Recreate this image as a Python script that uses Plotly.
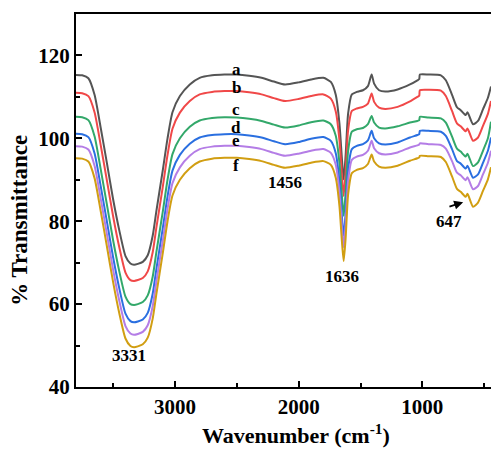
import plotly.graph_objects as go

# Wavenumber grid (cm^-1) shared by all spectra
wavenumber = [3800, 3750, 3700, 3650, 3600, 3550, 3500, 3450, 3400, 3360, 3331, 3300,
              3260, 3220, 3180, 3150, 3100, 3060, 3020, 2960, 2880, 2800, 2700, 2600,
              2500, 2400, 2300, 2200, 2110, 2000, 1900, 1800, 1740, 1700, 1670, 1650,
              1636, 1620, 1600, 1570, 1530, 1480, 1440, 1410, 1390, 1350, 1300, 1200,
              1100, 1040, 1025, 1020, 950, 850, 810, 760, 720, 690, 650, 635, 590, 550,
              510, 470, 445]

trans_a = [115.3, 115.2, 114.5, 110.5, 102.5, 94.0, 85.3, 77.8, 71.6, 69.8, 69.5, 69.7,
           70.2, 71.8, 76.5, 82.5, 92.0, 100.0, 106.3, 110.2, 113.0, 114.6, 115.2, 115.4,
           115.4, 115.1, 114.6, 113.7, 113.0, 113.5, 114.2, 114.6, 113.6, 110.5, 103.5, 95.0,
           90.1, 96.0, 106.0, 110.6, 111.2, 111.6, 112.6, 115.4, 113.2, 111.6, 111.3, 111.8,
           113.0, 114.0, 114.3, 115.4, 115.4, 115.2, 114.0, 110.5, 107.5, 106.8, 105.6, 106.3,
           103.4, 104.2, 107.0, 109.8, 112.5]

trans_b = [111.0, 110.9, 110.2, 106.3, 98.3, 89.8, 81.2, 73.7, 67.6, 65.8, 65.6, 65.8,
           66.3, 67.9, 72.5, 78.5, 88.0, 96.0, 102.3, 106.2, 109.0, 110.6, 111.2, 111.4,
           111.4, 111.1, 110.6, 109.7, 109.0, 109.5, 110.2, 110.6, 109.6, 106.5, 99.5, 91.0,
           86.1, 92.0, 102.0, 106.6, 107.2, 107.6, 108.4, 110.8, 108.8, 107.4, 107.1, 107.6,
           108.9, 110.0, 110.3, 111.6, 111.7, 111.5, 110.2, 106.6, 103.6, 102.9, 101.7, 102.4,
           99.4, 100.2, 103.0, 105.9, 109.0]

trans_c = [105.2, 105.1, 104.4, 100.5, 92.5, 84.0, 75.4, 67.9, 61.8, 60.0, 59.8, 60.0,
           60.5, 62.1, 66.6, 72.6, 82.0, 90.0, 96.2, 100.0, 102.8, 104.3, 104.9, 105.1,
           105.0, 104.7, 104.2, 103.3, 102.6, 103.1, 103.9, 104.3, 103.4, 100.6, 94.0, 86.0,
           81.3, 87.0, 97.0, 101.6, 102.2, 102.5, 103.4, 105.4, 103.8, 102.6, 102.4, 102.9,
           103.8, 104.2, 104.4, 105.2, 105.0, 104.8, 103.8, 100.4, 97.5, 96.8, 95.6, 96.3,
           93.3, 94.2, 97.0, 100.0, 104.0]

trans_d = [101.1, 101.0, 100.3, 96.4, 88.4, 79.9, 71.3, 63.8, 57.7, 55.9, 55.6, 55.8,
           56.3, 57.9, 62.5, 68.5, 78.0, 86.0, 92.2, 96.0, 98.7, 100.2, 100.8, 101.0,
           101.0, 100.7, 100.2, 99.3, 98.6, 99.1, 99.9, 100.3, 99.4, 96.4, 89.5, 81.0,
           76.5, 82.0, 92.5, 97.4, 98.2, 98.6, 99.5, 101.8, 100.0, 98.8, 98.5, 99.0,
           100.2, 100.8, 101.0, 101.8, 101.8, 101.6, 100.6, 97.4, 94.5, 93.9, 92.7, 93.4,
           90.5, 91.3, 94.1, 97.0, 100.2]

trans_e = [98.1, 98.0, 97.3, 93.4, 85.4, 76.9, 68.3, 60.8, 54.7, 52.9, 52.6, 52.8,
           53.3, 54.9, 59.5, 65.5, 75.0, 83.0, 89.2, 93.0, 95.8, 97.4, 98.0, 98.2,
           98.2, 97.9, 97.4, 96.5, 95.8, 96.3, 97.0, 97.4, 96.5, 93.6, 86.8, 78.3,
           73.7, 79.3, 89.8, 94.8, 95.6, 96.0, 97.0, 99.4, 97.6, 96.4, 96.1, 96.6,
           97.8, 98.3, 98.5, 98.8, 98.6, 98.4, 97.5, 94.5, 91.7, 91.1, 89.9, 90.6,
           87.7, 88.5, 91.3, 94.1, 97.0]

trans_f = [95.2, 95.1, 94.4, 90.4, 82.4, 73.9, 65.3, 57.8, 51.7, 49.9, 49.6, 49.8,
           50.3, 51.9, 56.5, 62.5, 72.0, 80.0, 86.2, 90.0, 92.8, 94.4, 95.1, 95.3,
           95.3, 95.0, 94.5, 93.6, 92.9, 93.4, 94.1, 94.5, 93.6, 90.5, 83.6, 75.0,
           70.4, 76.0, 86.5, 91.6, 92.4, 92.8, 93.8, 96.1, 94.4, 93.2, 92.9, 93.4,
           94.6, 95.2, 95.4, 95.8, 95.7, 95.5, 94.3, 90.8, 87.8, 87.1, 85.9, 86.6,
           83.5, 84.5, 87.3, 90.1, 93.0]

series_names = ["a", "b", "c", "d", "e", "f"]
series_values = [trans_a, trans_b, trans_c, trans_d, trans_e, trans_f]
series_colors = ["#555555", "#f04848", "#33a86a", "#2a6fe0", "#b47de6", "#d19e12"]

# Curve label positions (wavenumber, transmittance)
label_x = [2500, 2500, 2510, 2505, 2510, 2510]
label_y = [116.6, 112.3, 107.0, 102.5, 99.4, 93.4]

# Peak annotations
peak_text = ["3331", "1636", "1456"]
peak_x = [3372, 1650, 2111]
peak_y = [47.5, 66.6, 89.4]

serif = "Liberation Serif"

fig = go.Figure()
for name, vals, col in zip(series_names, series_values, series_colors):
    fig.add_trace(go.Scatter(
        x=wavenumber, y=vals, mode="lines", name=name,
        line=dict(color=col, width=2, shape="spline", smoothing=0.6),
        showlegend=False, hoverinfo="skip",
    ))

annotations = []
for name, lx, ly in zip(series_names, label_x, label_y):
    annotations.append(dict(x=lx, y=ly, xref="x", yref="y", text=name, showarrow=False,
                            font=dict(family=serif, size=17, color="black", weight="bold")))
for t, px, py in zip(peak_text, peak_x, peak_y):
    annotations.append(dict(x=px, y=py, xref="x", yref="y", text=t, showarrow=False,
                            font=dict(family=serif, size=17, color="black", weight="bold")))

# 647 label with its small arrow
annotations.append(dict(x=785, y=80.0, xref="x", yref="y", text="647", showarrow=False,
                        font=dict(family=serif, size=17, color="black", weight="bold")))
annotations.append(dict(x=670, y=84.6, ax=793, ay=83.4, xref="x", yref="y",
                        axref="x", ayref="y", text="", showarrow=True,
                        arrowhead=2, arrowsize=1, arrowwidth=1.8, arrowcolor="black"))

# Axis titles
annotations.append(dict(x=0.53, y=-0.125, xref="paper", yref="paper",
                        text="Wavenumber (cm<sup>-1</sup>)", showarrow=False,
                        xanchor="center", yanchor="middle",
                        font=dict(family=serif, size=22, color="black", weight="bold")))
annotations.append(dict(x=-0.135, y=0.448, xref="paper", yref="paper",
                        text="% Transmittance", showarrow=False, textangle=-90,
                        xanchor="center", yanchor="middle",
                        font=dict(family=serif, size=23, color="black", weight="bold")))

fig.update_layout(
    width=491, height=449,
    margin=dict(l=76, r=0, t=14, b=62),
    paper_bgcolor="white", plot_bgcolor="white",
    annotations=annotations,
    xaxis=dict(
        range=[3800, 445], tickvals=[3000, 2000, 1000],
        ticks="inside", ticklen=6, tickwidth=2, tickcolor="black",
        minor=dict(tickvals=[3500, 2500, 1500, 500], ticks="inside", ticklen=4,
                   tickwidth=1.5, tickcolor="black"),
        showline=True, linecolor="black", linewidth=2, mirror=True,
        showgrid=False, zeroline=False,
        tickfont=dict(family=serif, size=21, color="black", weight="bold"),
    ),
    yaxis=dict(
        range=[40, 130], tickvals=[40, 60, 80, 100, 120],
        ticks="inside", ticklen=6, tickwidth=2, tickcolor="black",
        minor=dict(tickvals=[50, 70, 90, 110], ticks="inside", ticklen=4,
                   tickwidth=1.5, tickcolor="black"),
        showline=True, linecolor="black", linewidth=2,
        showgrid=False, zeroline=False,
        tickfont=dict(family=serif, size=21, color="black", weight="bold"),
    ),
)

fig.write_html("out.html")
